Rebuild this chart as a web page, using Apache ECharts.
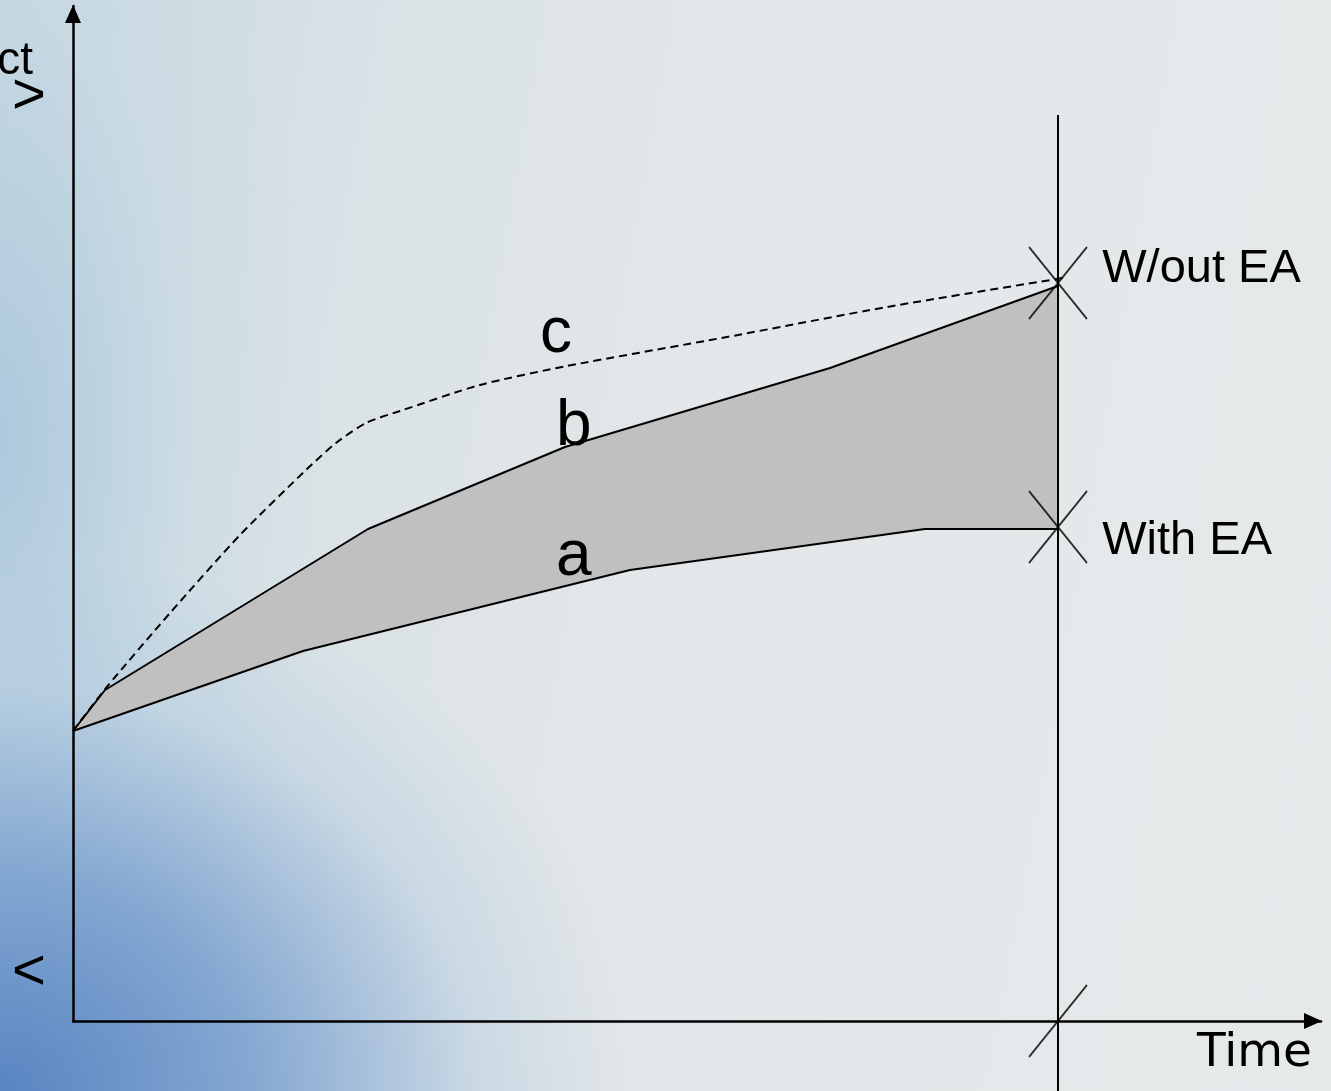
<!DOCTYPE html>
<html>
<head>
<meta charset="utf-8">
<title>EA impact over time</title>
<script src="https://cdn.jsdelivr.net/npm/echarts@6/dist/echarts.min.js"></script>
<style>
  html, body { margin: 0; padding: 0; width: 1331px; height: 1091px; overflow: hidden; }
  body {
    background:
      radial-gradient(ellipse 640px 540px at 0% 100%, rgba(82,128,192,0.95) 0%, rgba(110,152,204,0.78) 40%, rgba(170,198,222,0.38) 75%, rgba(226,230,232,0) 100%),
      radial-gradient(ellipse 320px 760px at 0% 40%, rgba(168,198,220,0.85) 0%, rgba(200,218,228,0.45) 60%, rgba(226,230,232,0) 100%),
      linear-gradient(100deg, #c6d7e0 0%, #d9e2e6 25%, #e3e7e9 50%, #e6e9ea 100%);
  }
  #container { width: 1331px; height: 1091px; }
</style>
</head>
<body>
<div id="container"></div>
<script>
    // 坐标单位：相对原点的像素距离（示意图，无刻度）
    var aX = [0, 230, 557, 852, 985];
    var aY = [290, 370, 451, 492, 492];

    var bX = [0, 32, 295, 492, 757, 985];
    var bY = [290, 331, 492, 574, 653, 735];

    var cX = [0, 33, 97, 167, 233, 263, 293, 327, 407, 494, 654, 814, 990];
    var cY = [290, 333, 408, 486, 551, 578, 598, 610, 636, 655, 684, 714, 743];

    var markX = 985;
    var markY = [738, 494];
    var markNames = ['W/out EA', 'With EA'];
    var cutY = [-70, 906];

    var xMax = 1248;
    var yMax = 1015;

    function pairs(xs, ys) {
        var out = [];
        for (var i = 0; i < xs.length; i++) {
            out.push([xs[i], ys[i]]);
        }
        return out;
    }

    var dom = document.getElementById("container");
    var myChart = echarts.init(dom, null, {renderer: 'canvas'});

    var lineStyleSolid = {color: '#000', width: 2};
    var axisStyle = {
        show: true,
        lineStyle: {color: '#000', width: 2.5},
        symbol: ['none', 'triangle'],
        symbolSize: [16, 18],
        symbolOffset: [0, -8]
    };
    var txtFont = 'Liberation Sans, Arial, sans-serif';
    var markLabel = {
        show: true,
        position: 'right',
        distance: 13,
        formatter: '{b}',
        color: '#000',
        opacity: 1,
        fontSize: 47,
        fontFamily: txtFont
    };

    var option = {
        backgroundColor: 'transparent',
        animation: false,
        textStyle: {color: '#000'},
        grid: {left: 73, right: 10, top: 6, bottom: 70},
        xAxis: {
            type: 'value',
            min: 0,
            max: xMax,
            axisLine: axisStyle,
            axisTick: {show: false},
            axisLabel: {show: false},
            splitLine: {show: false}
        },
        yAxis: {
            type: 'value',
            min: 0,
            max: yMax,
            axisLine: axisStyle,
            axisTick: {show: false},
            axisLabel: {show: false},
            splitLine: {show: false}
        },
        series: [
            {
                // 灰色区域 a-b 之间
                type: 'custom',
                data: [0],
                z: 1,
                renderItem: function (params, api) {
                    var pts = [];
                    for (var i = 0; i < bX.length; i++) {
                        pts.push(api.coord([bX[i], bY[i]]));
                    }
                    for (var j = aX.length - 1; j >= 0; j--) {
                        pts.push(api.coord([aX[j], aY[j]]));
                    }
                    return {
                        type: 'polygon',
                        shape: {points: pts},
                        style: {fill: '#c0c0c0', stroke: 'none'}
                    };
                }
            },
            {
                name: 'a',
                type: 'line',
                data: pairs(aX, aY),
                symbol: 'none',
                lineStyle: lineStyleSolid,
                z: 3
            },
            {
                name: 'b',
                type: 'line',
                data: pairs(bX, bY),
                symbol: 'none',
                lineStyle: lineStyleSolid,
                z: 3
            },
            {
                name: 'c',
                type: 'line',
                data: pairs(cX, cY),
                symbol: 'none',
                smooth: 0.25,
                lineStyle: {color: '#000', width: 2, type: [8, 5]},
                z: 3
            },
            {
                // 竖线
                type: 'line',
                data: [[markX, cutY[0]], [markX, cutY[1]]],
                symbol: 'none',
                clip: false,
                lineStyle: {color: '#000', width: 2},
                z: 4
            },
            {
                type: 'scatter',
                symbol: 'path://M0,0L58,72M58,0L0,72',
                symbolSize: [58, 72],
                itemStyle: {color: 'none', borderColor: '#000', borderWidth: 2},
                data: [
                    {value: [markX, markY[0]], name: markNames[0], label: Object.assign({}, markLabel, {offset: [0, -14]})},
                    {value: [markX, markY[1]], name: markNames[1], label: Object.assign({}, markLabel, {offset: [0, 14]})}
                ],
                label: markLabel,
                emphasis: {disabled: true},
                z: 5
            },
            {
                // x轴上的断线标记
                type: 'scatter',
                symbol: 'path://M0,72L58,0',
                symbolSize: [58, 72],
                itemStyle: {color: 'none', borderColor: '#000', borderWidth: 2},
                data: [[markX, 0]],
                clip: false,
                z: 5
            }
        ],
        graphic: [
            {type: 'text', z: 20, left: 540, top: 302, style: {text: 'c', fontSize: 64, fontFamily: txtFont, fill: '#000'}},
            {type: 'text', z: 20, left: 556, top: 395, style: {text: 'b', fontSize: 64, fontFamily: txtFont, fill: '#000'}},
            {type: 'text', z: 20, left: 556, top: 525, style: {text: 'a', fontSize: 64, fontFamily: txtFont, fill: '#000'}},
            {type: 'text', z: 20, right: 19, top: 1030, style: {text: 'Time', fontSize: 47, fontFamily: 'DejaVu Sans', fill: '#000'}},
            {type: 'text', z: 20, right: 1298, top: 38, style: {text: 'Impact', fontSize: 46, fontFamily: txtFont, fill: '#000', align: 'right'}},
            {type: 'text', z: 20, left: 12, top: 68, style: {text: '>', fontSize: 58, fontFamily: txtFont, fill: '#000'}},
            {type: 'text', z: 20, left: 12, top: 944, style: {text: '<', fontSize: 58, fontFamily: txtFont, fill: '#000'}}
        ]
    };

    if (option && typeof option === "object") {
        myChart.setOption(option, true);
    }
</script>
</body>
</html>
